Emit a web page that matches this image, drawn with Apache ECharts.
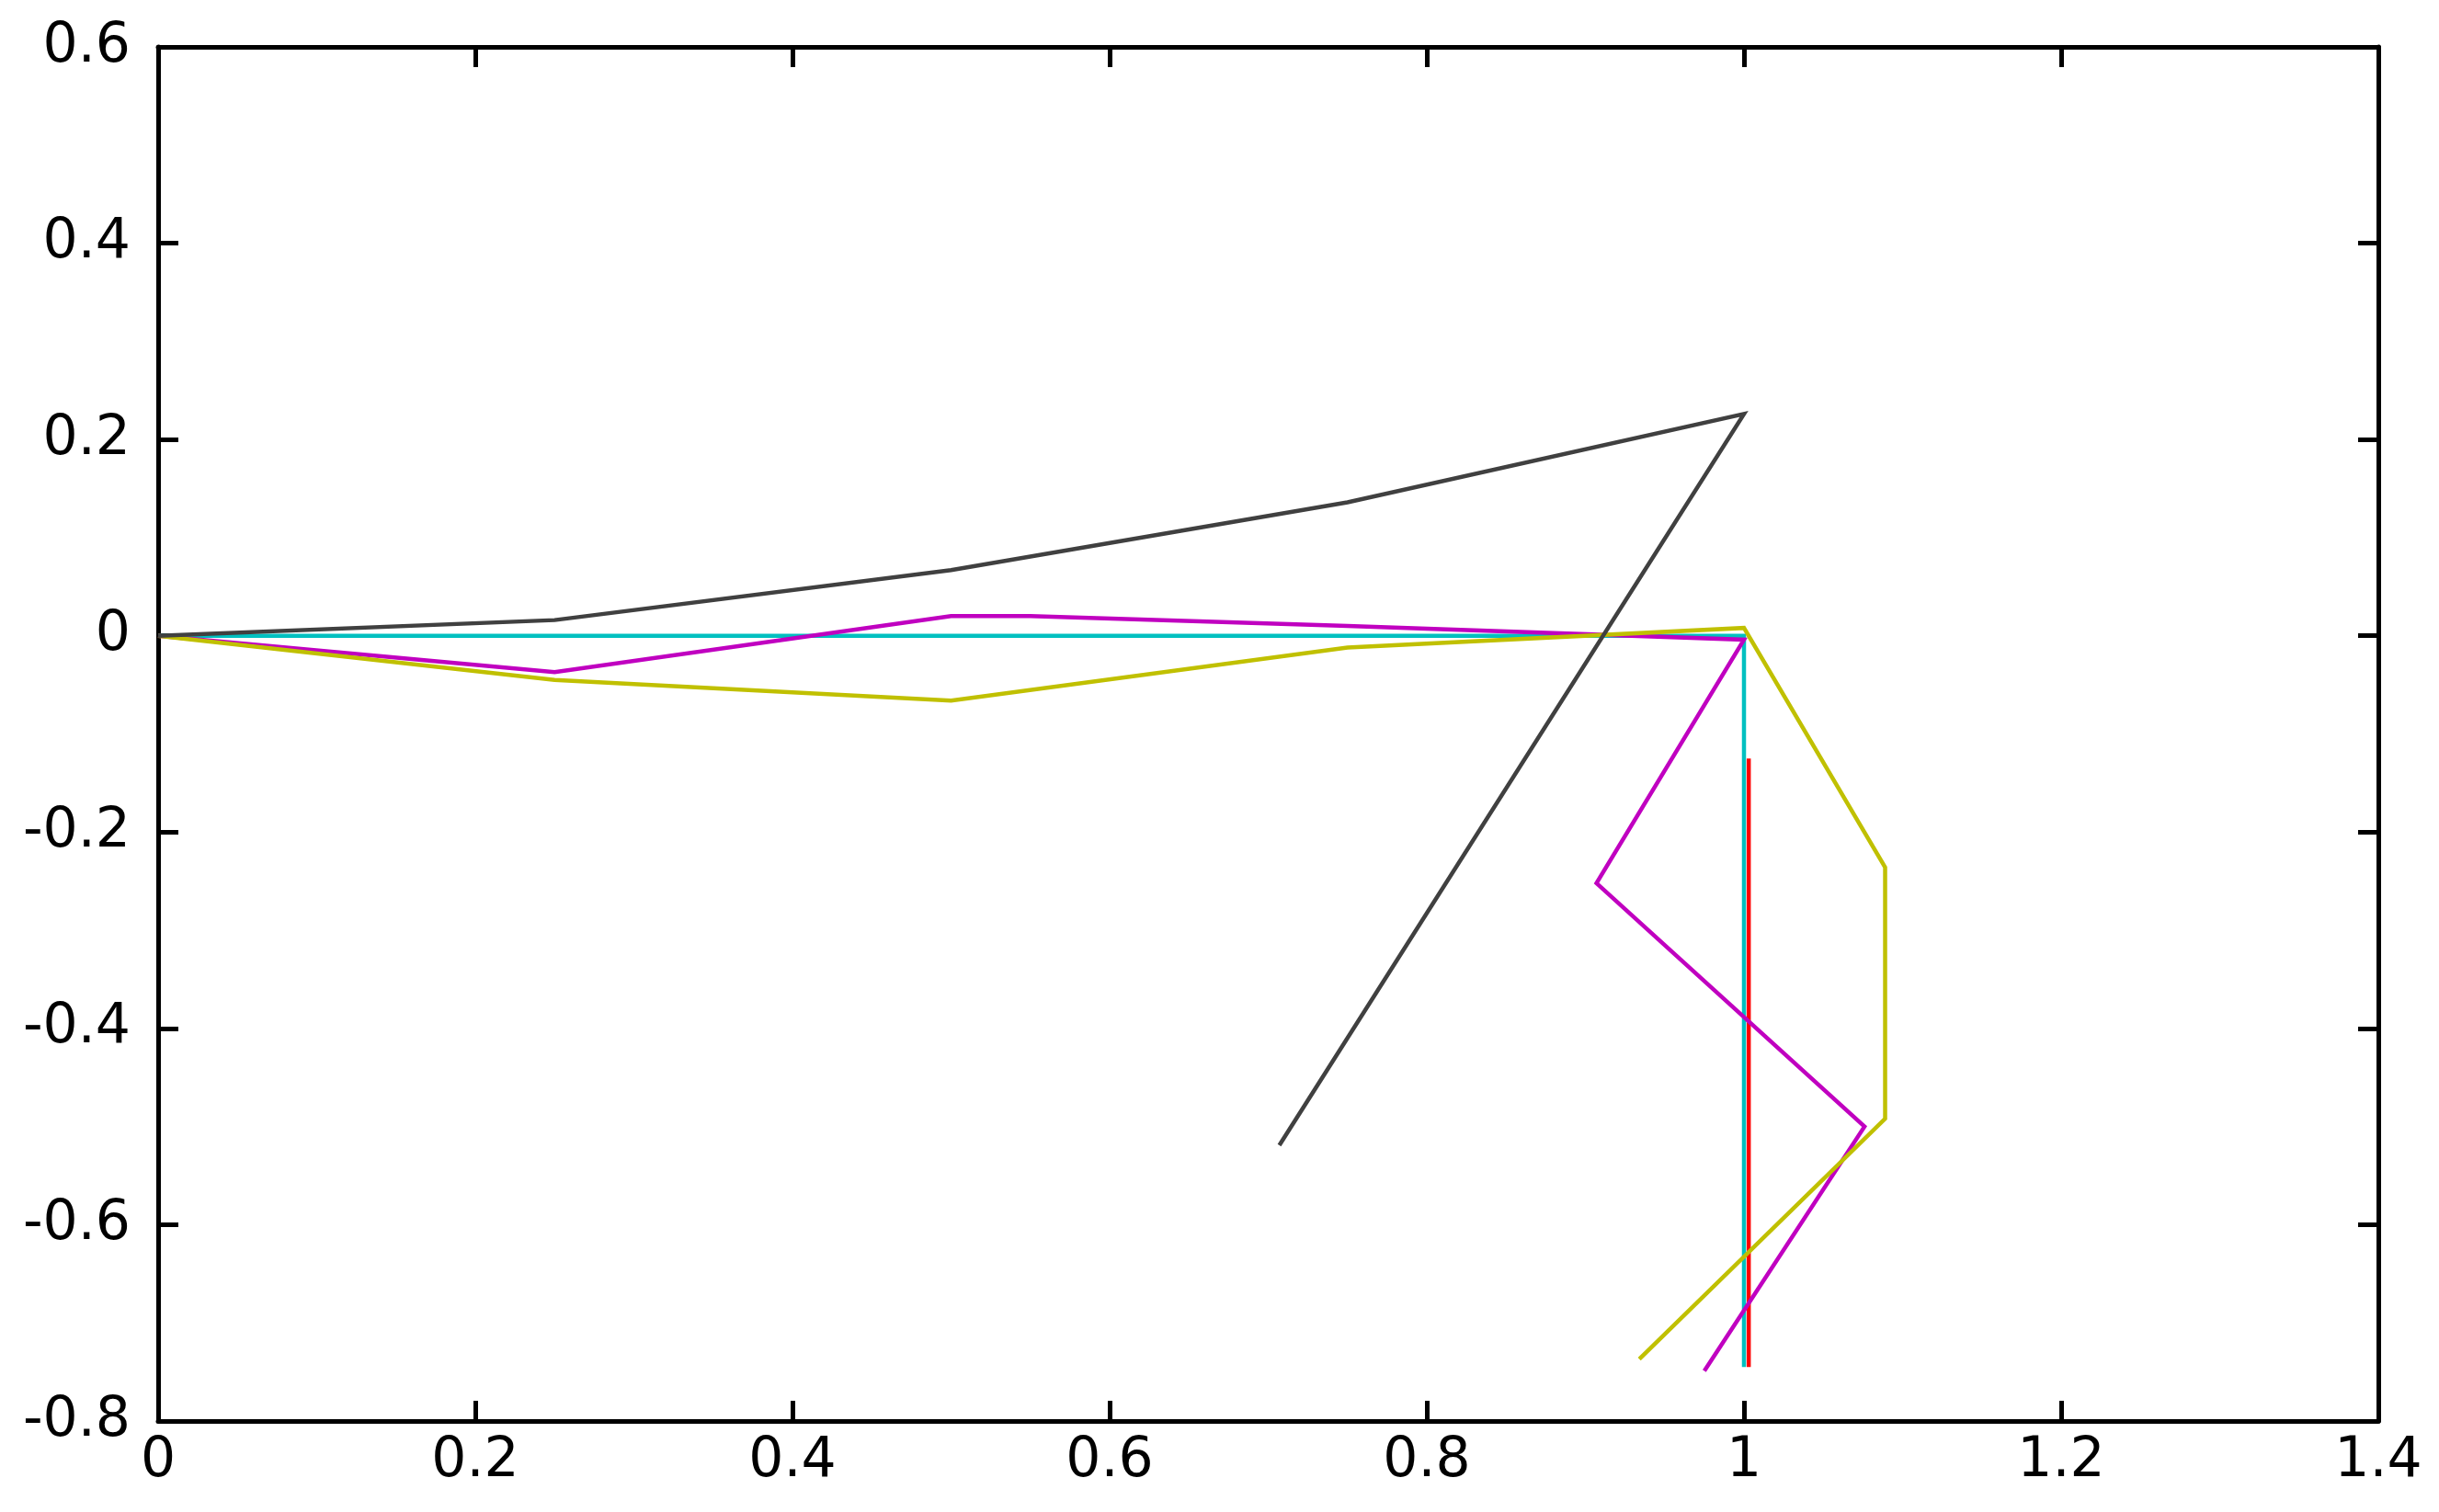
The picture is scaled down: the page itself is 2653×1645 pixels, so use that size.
<!DOCTYPE html>
<html><head><meta charset="utf-8">
<script src="https://cdn.jsdelivr.net/npm/echarts@6/dist/echarts.min.js"></script>
<style>html,body{margin:0;padding:0;background:#fff}#c{width:2653px;height:1645px}</style>
</head><body><div id="c"></div>
<script>
// Chain snapshots (x, y)
const cyanX = [0, 1.0, 1.0];
const cyanY = [0, 0, -0.745];
const redX = [1.003, 1.003];
const redY = [-0.125, -0.745];
const magentaX = [0, 0.25, 0.5, 0.55, 0.75, 1.0, 0.907, 1.076, 0.975];
const magentaY = [0, -0.037, 0.02, 0.02, 0.01, -0.004, -0.252, -0.5, -0.749];
const yellowX = [0, 0.25, 0.5, 0.75, 1.0, 1.089, 1.089, 0.934];
const yellowY = [0, -0.045, -0.066, -0.012, 0.008, -0.236, -0.492, -0.737];
const grayX = [0, 0.25, 0.5, 0.75, 1.0, 0.707];
const grayY = [0, 0.016, 0.067, 0.136, 0.226, -0.519];

const xMin = 0, xMax = 1.4, xStep = 0.2;
const yMin = -0.8, yMax = 0.6, yStep = 0.2;

function pairs(xs, ys) { return xs.map((x, i) => [x, ys[i]]); }

const chart = echarts.init(document.getElementById('c'), null, {renderer: 'canvas'});
const font = {fontFamily: 'DejaVu Sans', fontSize: 60, color: '#000'};
const axLine = {show: true, onZero: false, lineStyle: {color: '#000', width: 5}};
const tick = {show: true, inside: true, length: 22, lineStyle: {color: '#000', width: 5}};
const fmt = v => { const r = Math.round(v * 10) / 10; return String(r); };

function mkX(pos, showLabel) {
  return {type: 'value', position: pos, min: xMin, max: xMax, interval: xStep,
    axisLine: axLine, axisTick: tick, splitLine: {show: false},
    axisLabel: Object.assign({show: showLabel, margin: 14, formatter: fmt}, font)};
}
function mkY(pos, showLabel) {
  return {type: 'value', position: pos, min: yMin, max: yMax, interval: yStep,
    axisLine: axLine, axisTick: tick, splitLine: {show: false},
    axisLabel: Object.assign({show: showLabel, margin: 30, formatter: fmt}, font)};
}

function line(name, xs, ys, color, z) {
  return {name, type: 'line', data: pairs(xs, ys), showSymbol: false, symbol: 'none',
    xAxisIndex: 0, yAxisIndex: 0, z: z,
    lineStyle: {color, width: 4.5, cap: 'butt', join: 'miter'}, silent: true};
}

chart.setOption({
  animation: false,
  backgroundColor: '#fff',
  grid: {left: 172, right: 66, top: 51, bottom: 99},
  xAxis: [mkX('bottom', true), mkX('top', false)],
  yAxis: [mkY('left', true), mkY('right', false)],
  series: [
    line('cyan', cyanX, cyanY, '#00c0c0', 2),
    line('red', redX, redY, '#ff0000', 3),
    line('magenta', magentaX, magentaY, '#c000c0', 4),
    line('yellow', yellowX, yellowY, '#c0c000', 5),
    line('gray', grayX, grayY, '#404040', 6)
  ]
});
</script></body></html>
